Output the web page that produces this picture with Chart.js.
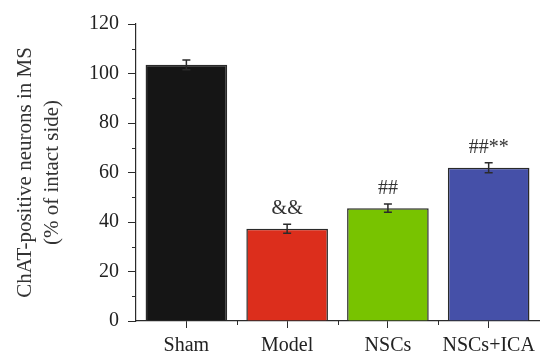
<!DOCTYPE html>
<html lang="en">
<head>
  <meta charset="UTF-8" />
  <title>ChAT-positive neurons</title>
  <script src="https://cdn.jsdelivr.net/npm/chart.js"></script>
  <style>
    html, body { margin: 0; padding: 0; background: #fff; }
    #wrap { width: 541px; height: 364px; }
  </style>
</head>
<body>
  <div id="wrap"><canvas id="bars" width="541" height="364"></canvas></div>

  <script>
    const groups = ['Sham', 'Model', 'NSCs', 'NSCs+ICA'];
    const means = [103.5, 37.3, 45.6, 61.9];
    const errors = [2.0, 1.8, 1.7, 2.0];
    const marks = ['', '&&', '##', '##**'];
    const barColors = ['#151515', '#dc2e1c', '#78c300', '#4550a8'];
    const yTicks = [0, 20, 40, 60, 80, 100, 120];
    const yMinor = [10, 30, 50, 70, 90, 110];

    const serif = "'Liberation Serif', 'DejaVu Serif', serif";
    const ink = '#2b2b2b';

    // error bars, significance marks and minor ticks
    const extras = {
      id: 'extras',
      afterDatasetsDraw(chart) {
        const ctx = chart.ctx;
        const x = chart.scales.x, y = chart.scales.y;
        const meta = chart.getDatasetMeta(0);
        ctx.save();
        ctx.strokeStyle = ink;
        ctx.lineWidth = 1.5;
        meta.data.forEach((bar, i) => {
          const cx = bar.x;
          const top = y.getPixelForValue(means[i] + errors[i]);
          const bot = y.getPixelForValue(means[i] - errors[i]);
          ctx.beginPath();
          ctx.moveTo(cx, top); ctx.lineTo(cx, bot);
          ctx.moveTo(cx - 4, top); ctx.lineTo(cx + 4, top);
          ctx.moveTo(cx - 4, bot); ctx.lineTo(cx + 4, bot);
          ctx.stroke();
          if (marks[i]) {
            ctx.fillStyle = '#333';
            ctx.font = '20px ' + serif;
            ctx.textAlign = 'center';
            ctx.textBaseline = 'bottom';
            ctx.fillText(marks[i], cx, top - 5);
          }
        });
        // minor ticks
        ctx.lineWidth = 1;
        ctx.beginPath();
        yMinor.forEach(v => {
          const py = Math.round(y.getPixelForValue(v)) + 0.5;
          ctx.moveTo(x.left - 4, py); ctx.lineTo(x.left, py);
        });
        for (let i = 1; i < groups.length; i++) {
          const px = Math.round((x.getPixelForValue(i - 1) + x.getPixelForValue(i)) / 2) + 0.5;
          ctx.moveTo(px, y.bottom); ctx.lineTo(px, y.bottom + 4);
        }
        ctx.stroke();
        ctx.restore();
      }
    };

    new Chart(document.getElementById('bars'), {
      type: 'bar',
      data: {
        labels: groups,
        datasets: [{
          data: means,
          backgroundColor: barColors,
          borderColor: '#2a2a2a',
          borderWidth: 1.5,
          categoryPercentage: 1,
          barPercentage: 0.81
        }]
      },
      options: {
        responsive: false,
        animation: false,
        layout: { padding: { top: 24, right: 1, left: 0, bottom: 0 } },
        plugins: { legend: { display: false }, tooltip: { enabled: false } },
        scales: {
          x: {
            grid: { offset: false, drawOnChartArea: false, tickLength: 7, color: ink },
            border: { color: ink, width: 1.2 },
            ticks: { color: '#222', font: { family: serif, size: 20 }, padding: 6 },
            afterFit: s => { s.height = 43; }
          },
          y: {
            min: 0, max: 120,
            afterBuildTicks: s => { s.ticks = yTicks.map(v => ({ value: v })); },
            grid: { drawOnChartArea: false, tickLength: 8, color: ink },
            border: { color: ink, width: 1.2 },
            ticks: { color: '#222', font: { family: serif, size: 20 }, padding: 9 },
            title: {
              display: true,
              text: ['ChAT-positive neurons in MS', '(% of intact side)'],
              color: '#333',
              font: { family: serif, size: 21, lineHeight: 1.3 },
              padding: { top: 12, bottom: 0 }
            },
            afterFit: s => { s.width = 136; }
          }
        }
      },
      plugins: [extras]
    });
  </script>
</body>
</html>
